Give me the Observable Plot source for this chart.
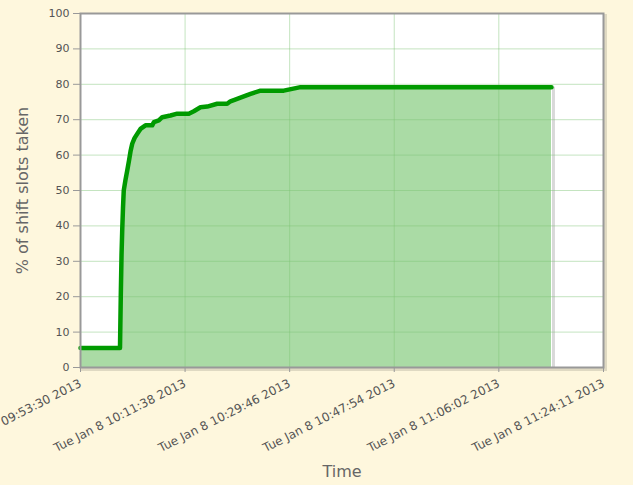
<!DOCTYPE html>
<html>
<head>
<meta charset="utf-8">
<script src="https://cdn.jsdelivr.net/npm/d3@7"></script>
<script src="https://cdn.jsdelivr.net/npm/@observablehq/plot@0.6"></script>
<style>
  html, body { margin: 0; padding: 0; background: #fef7dd; }
  #chart { width: 633px; height: 485px; }
</style>
</head>
<body>
<div id="chart"></div>
<script>
const day = "2013-01-08";
const times = [
  "09:53:30","10:00:21","10:00:29","10:00:37","10:00:44","10:00:52","10:01:00",
  "10:01:18","10:01:36","10:01:55","10:02:10","10:02:28","10:02:52","10:03:20",
  "10:03:54","10:04:46","10:05:56","10:06:13","10:07:05","10:07:40","10:09:06",
  "10:10:16","10:12:17","10:13:09","10:14:18","10:15:28","10:17:12","10:18:56",
  "10:19:30","10:20:40","10:21:49","10:22:59","10:24:43","10:28:45","10:31:39",
  "11:15:10"
];
const values = [
  5.5, 5.5, 20, 32, 38.7, 45, 50,
  53, 55.6, 58.5, 61, 63.2, 64.8, 66,
  67.4, 68.4, 68.4, 69.3, 69.8, 70.7, 71.2,
  71.7, 71.7, 72.4, 73.5, 73.7, 74.5, 74.5,
  75.2, 75.9, 76.6, 77.3, 78.2, 78.2, 79.2,
  79.2
];
const xTickTimes = ["09:53:30","10:11:38","10:29:46","10:47:54","11:06:02","11:24:11"];
const yTicks = [0, 10, 20, 30, 40, 50, 60, 70, 80, 90, 100];
const yLabel = "% of shift slots taken";
const xLabel = "Time";

const parse = d3.utcParse("%Y-%m-%d %H:%M:%S");
const fmt = d3.utcFormat("%a %b %-d %H:%M:%S %Y");
const data = times.map((t, i) => ({time: parse(day + " " + t), value: values[i]}));
const xTicks = xTickTimes.map(t => parse(day + " " + t));
const last = data[data.length - 1];

const chart = Plot.plot({
  width: 633,
  height: 485,
  marginLeft: 80,
  marginRight: 30,
  marginTop: 13,
  marginBottom: 118,
  style: {background: "#fef7dd", fontFamily: "DejaVu Sans, sans-serif"},
  x: {type: "utc", domain: [xTicks[0], xTicks[xTicks.length - 1]]},
  y: {domain: [0, 100]},
  marks: [
    Plot.frame({stroke: "#000", strokeOpacity: 0.12, strokeWidth: 3, dx: 2, dy: 2}),
    Plot.frame({fill: "#ffffff", stroke: null}),
    Plot.areaY(data, {x: "time", y: "value", fill: "#aadba5"}),
    Plot.ruleX([last], {x: "time", y1: 0, y2: "value", stroke: "#000", strokeOpacity: 0.15, strokeWidth: 3, dx: 2}),
    Plot.gridY(yTicks, {stroke: "#7cc474", strokeOpacity: 0.45, strokeWidth: 1}),
    Plot.gridX(xTicks, {stroke: "#7cc474", strokeOpacity: 0.45, strokeWidth: 1}),
    Plot.line(data, {x: "time", y: "value", stroke: "#009a00", strokeWidth: 4.5, strokeLinejoin: "round", strokeLinecap: "round"}),
    Plot.frame({stroke: "#999", strokeWidth: 2}),
    Plot.axisY({ticks: yTicks, tickSize: 7, tickPadding: 4, fontSize: 11, stroke: "#999", fill: "#545454", label: null}),
    Plot.axisX({ticks: xTicks, tickFormat: fmt, tickRotate: -27, tickSize: 5, tickPadding: 10, fontSize: 12, stroke: "#999", fill: "#545454", label: null, textAnchor: "end"}),
    Plot.text([yLabel], {frameAnchor: "left", textAnchor: "middle", dx: -58, rotate: -90, fontSize: 16, fill: "#666", text: d => d}),
    Plot.text([xLabel], {frameAnchor: "bottom", textAnchor: "middle", dy: 109, fontSize: 16, fill: "#666", text: d => d})
  ]
});
document.getElementById("chart").appendChild(chart);
</script>
</body>
</html>
